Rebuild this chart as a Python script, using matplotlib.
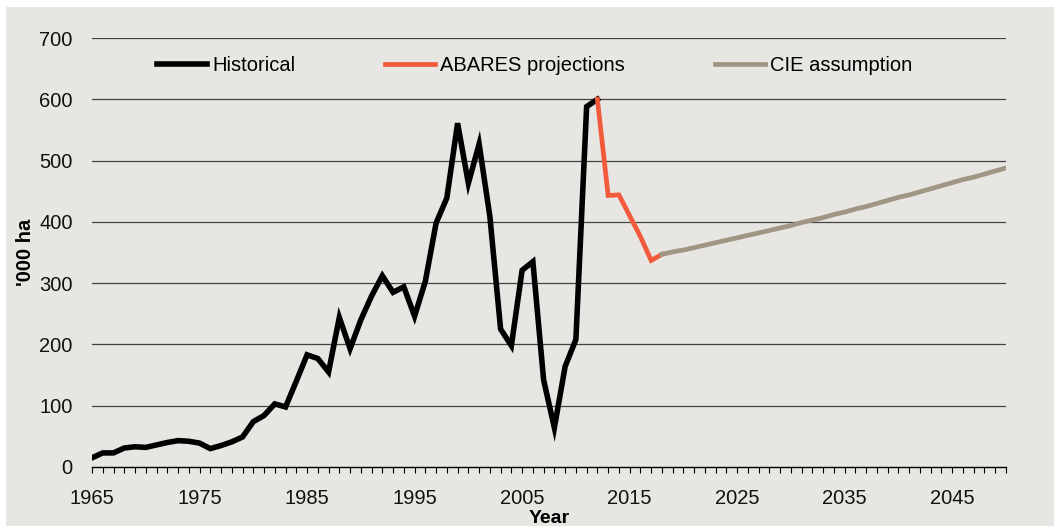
import numpy as np
import matplotlib
matplotlib.use("Agg")
import matplotlib.pyplot as plt
from matplotlib.patches import Rectangle
from matplotlib.ticker import MultipleLocator

plt.rcParams['font.family'] = ['Liberation Sans', 'DejaVu Sans']

# historical area, '000 ha (1965-2012)
hist_years = list(range(1965, 2013))
hist_vals = [15, 23, 23, 31, 33, 32, 36, 40, 43, 42,
             39, 30, 35, 41, 49, 74, 84, 103, 98, 140,
             183, 177, 155, 244, 193, 240, 279, 312, 285, 294,
             246, 303, 398, 439, 561, 463, 527, 409, 225, 198,
             321, 335, 142, 64, 164, 208, 588, 600]

# ABARES projections (2012-2018)
abares_years = list(range(2012, 2019))
abares_vals = [600, 443, 444, 410, 376, 337, 347]

# CIE assumption (2018-2050)
cie_years = list(range(2018, 2051))
cie_vals = [347, 351, 354, 358, 362, 366, 370, 374, 378, 382,
            386, 390, 394, 399, 403, 407, 412, 416, 421, 425,
            430, 435, 440, 444, 449, 454, 459, 464, 469, 473,
            478, 483, 488]

panel = '#e8e6e2'
red = '#f25a3c'
grey = '#a09684'

fig = plt.figure(figsize=(10.54, 5.26), dpi=100, facecolor='white')
fig.patches.append(Rectangle((6 / 1054, 0), 1 - 6 / 1054, 1 - 7 / 526,
                             transform=fig.transFigure, facecolor=panel,
                             edgecolor='none', zorder=-10))
ax = fig.add_axes([92 / 1054, 59 / 526, 914 / 1054, 429 / 526])
ax.set_facecolor(panel)
ax.set_zorder(1)

for v in range(100, 701, 100):
    ax.axhline(v, color='#444444', lw=0.9, zorder=1)

ax.plot(hist_years, hist_vals, color='black', lw=4.0, label='Historical',
        solid_joinstyle='miter', zorder=3)
ax.plot(abares_years, abares_vals, color=red, lw=3.4, label='ABARES projections',
        solid_joinstyle='miter', zorder=3)
ax.plot(cie_years, cie_vals, color=grey, lw=3.4, label='CIE assumption', zorder=3)

ax.set_xlim(1965, 2050)
ax.set_ylim(0, 700)
ax.xaxis.set_minor_locator(MultipleLocator(1))
ax.set_xticks(range(1965, 2050, 10))
ax.yaxis.set_major_locator(MultipleLocator(100))

for s in ['top', 'right', 'left']:
    ax.spines[s].set_visible(False)
ax.spines['bottom'].set_color('black')
ax.spines['bottom'].set_linewidth(1.0)
ax.tick_params(axis='x', which='both', direction='out', length=4, width=0.8,
               color='black', labelsize=14.5, pad=12, labelcolor='#111111')
ax.tick_params(axis='y', length=0, labelsize=14.5, pad=14, labelcolor='#111111')

ax.set_xlabel('Year', fontsize=14, fontweight='bold', labelpad=1)
ax.set_ylabel("'000 ha", fontsize=14.5, fontweight='bold', labelpad=3)

ax.legend(loc='center left', bbox_to_anchor=(0.071, 0.935), ncol=3, frameon=False,
          fontsize=14.5, handlelength=2.5, handletextpad=0.25, columnspacing=4.45,
          borderpad=0, borderaxespad=0)

fig.savefig('out.png', dpi=100, facecolor='white')
